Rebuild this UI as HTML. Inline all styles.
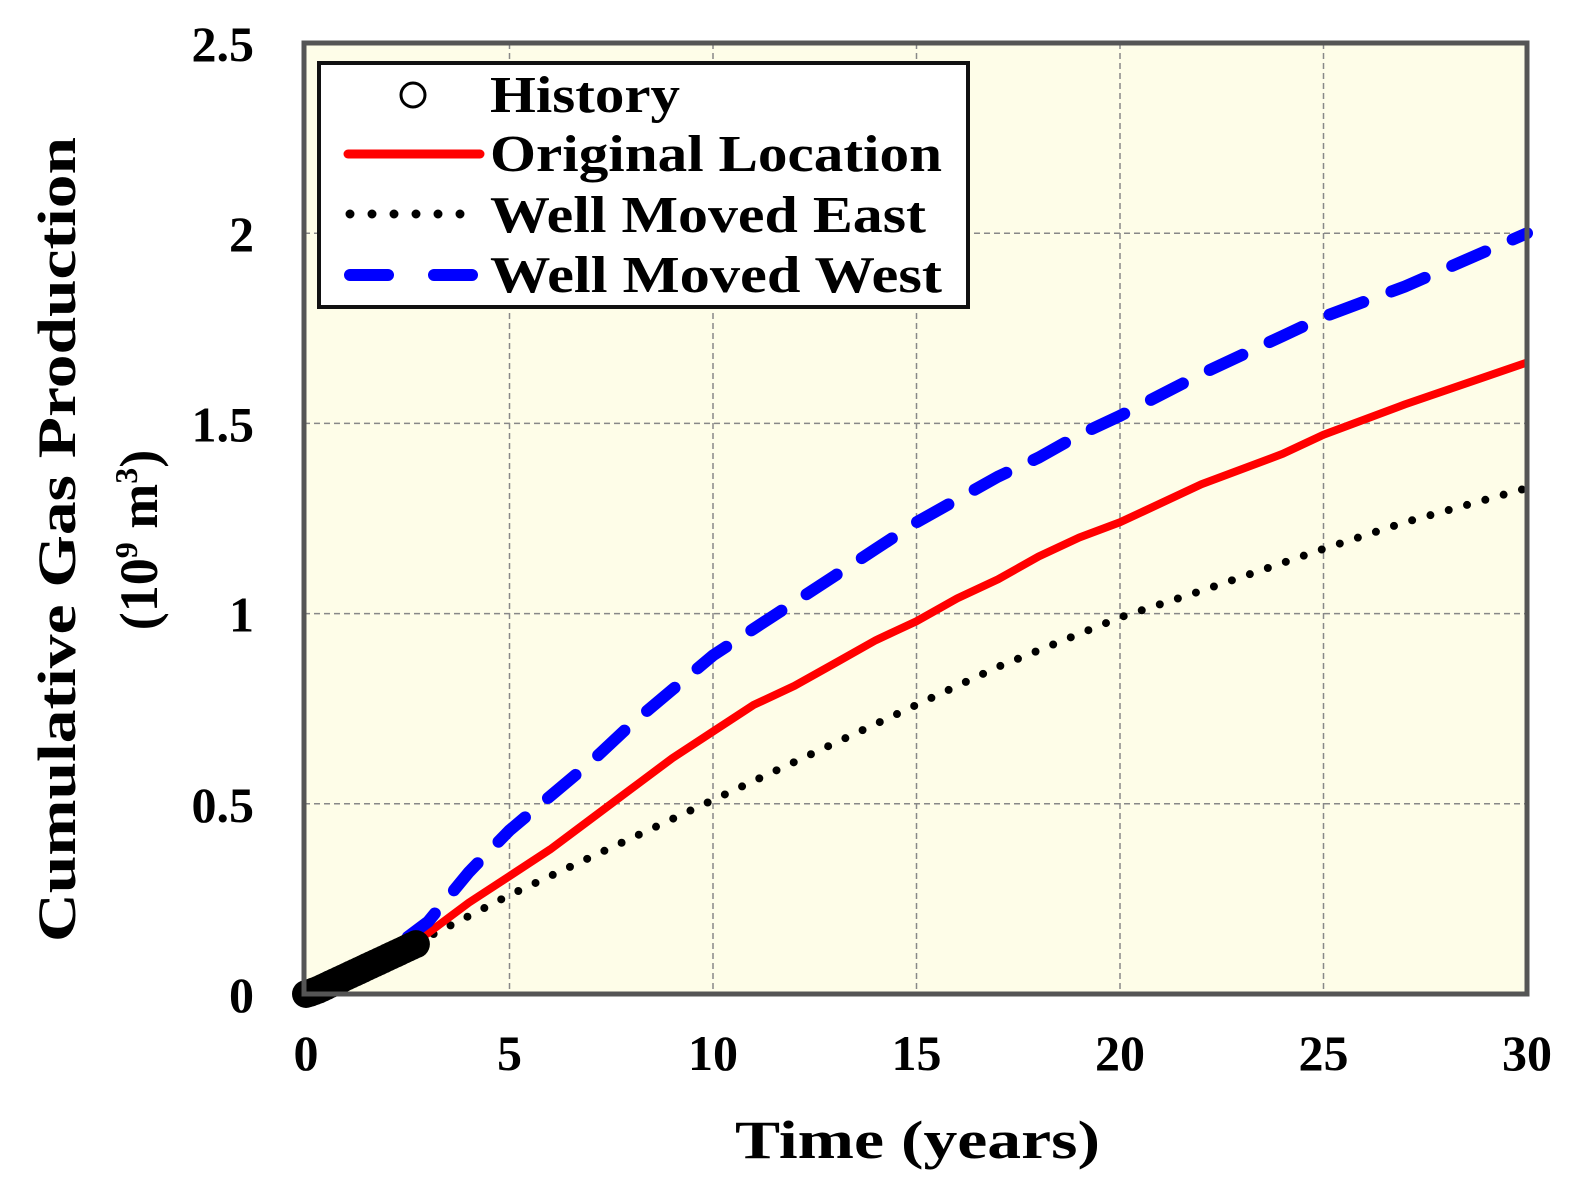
<!DOCTYPE html>
<html><head><meta charset="utf-8"><style>
html,body{margin:0;padding:0;background:#fff;}
svg{display:block;font-family:"Liberation Serif",serif;font-weight:bold;}
</style></head><body>
<svg id="chart" width="1582" height="1200" xmlns="http://www.w3.org/2000/svg">
<rect x="304" y="43" width="1223" height="951" fill="#fefde8"/>
<g id="grid"></g>
<g id="series"></g>
<rect x="304" y="43" width="1223" height="951" fill="none" stroke="#555" stroke-width="5"/>
<g id="ticks"></g>
<text x="735" y="1158" font-size="54" textLength="365" lengthAdjust="spacingAndGlyphs">Time  (years)</text>
<g transform="translate(75,540) rotate(-90)">
<text x="-402" y="0" font-size="54" textLength="805" lengthAdjust="spacingAndGlyphs">Cumulative Gas Production</text>
<text x="0" y="82" font-size="54" text-anchor="middle">(10<tspan font-size="32" dy="-20">9</tspan><tspan dy="20"> m</tspan><tspan font-size="32" dy="-20">3</tspan><tspan dy="20">)</tspan></text>
</g>
<g>
<rect x="319" y="63" width="649" height="244" fill="#fff" stroke="#111" stroke-width="4"/>
<circle cx="413" cy="95" r="12" fill="none" stroke="#000" stroke-width="3"/>
<text x="490" y="112" font-size="52" textLength="190" lengthAdjust="spacingAndGlyphs">History</text>
<line x1="348" y1="154" x2="480" y2="154" stroke="#f00" stroke-width="9" stroke-linecap="round"/>
<text x="490" y="171" font-size="52" textLength="452" lengthAdjust="spacingAndGlyphs">Original Location</text>
<line x1="350" y1="214" x2="480" y2="214" stroke="#000" stroke-width="9" stroke-linecap="round" stroke-dasharray="0 22"/>
<text x="490" y="232" font-size="52" textLength="436" lengthAdjust="spacingAndGlyphs">Well Moved East</text>
<line x1="350" y1="275" x2="480" y2="275" stroke="#00f" stroke-width="12" stroke-linecap="round" stroke-dasharray="38 46"/>
<text x="490" y="292" font-size="52" textLength="452" lengthAdjust="spacingAndGlyphs">Well Moved West</text>
</g>
</svg>
<script>
const xTicks=[0,5,10,15,20,25,30];
const yTicks=[0,0.5,1,1.5,2,2.5];
const yTickLabels=["0","0.5","1","1.5","2","2.5"];
const originalT=[2.7,3,4,5,6,7,8,9,10,11,12,13,14,15,16,17,18,19,20,22,24,25,27,30];
const originalV=[0.14,0.16,0.24,0.31,0.38,0.46,0.54,0.62,0.69,0.76,0.81,0.87,0.93,0.98,1.04,1.09,1.15,1.2,1.24,1.34,1.42,1.47,1.55,1.66];
const eastT=[2.7,3,5,7,10,12,15,17,20,22,25,27,30];
const eastV=[0.14,0.15,0.26,0.36,0.51,0.61,0.76,0.86,0.99,1.06,1.17,1.24,1.33];
const westT=[2.5,3,4,5,6,7,8,9,10,11,12,13,14,15,16,17,18,19,20,22,24,25,27,30];
const westV=[0.15,0.19,0.32,0.43,0.52,0.61,0.71,0.8,0.89,0.96,1.03,1.1,1.17,1.24,1.3,1.36,1.41,1.47,1.52,1.63,1.73,1.78,1.86,2.0];
const historyT=[0,0.1,0.2,0.3,0.4,0.5,0.6,0.7,0.8,0.9,1,1.1,1.2,1.3,1.4,1.5,1.6,1.7,1.8,1.9,2,2.1,2.2,2.3,2.4,2.5,2.6,2.7];
const historyV=[0,0.003,0.007,0.011,0.016,0.021,0.026,0.031,0.036,0.041,0.046,0.051,0.056,0.061,0.066,0.071,0.076,0.081,0.086,0.091,0.096,0.101,0.106,0.111,0.116,0.121,0.126,0.131];
const X=t=>306+t*(1527-306)/30;
const Y=v=>994-v*(994-43)/2.5;
const NS="http://www.w3.org/2000/svg";
function mk(tag,attrs,parent){const e=document.createElementNS(NS,tag);for(const k in attrs)e.setAttribute(k,attrs[k]);parent.appendChild(e);return e;}
const grid=document.getElementById('grid'),ticks=document.getElementById('ticks'),series=document.getElementById('series');
xTicks.forEach(t=>{
 if(t>0&&t<30){const l=mk('line',{x1:X(t),x2:X(t),y1:43,y2:994,stroke:'#888','stroke-width':1.5,'stroke-dasharray':'6 4'},grid);
 
 }
 const tx=mk('text',{x:X(t),y:1070,'font-size':50,'text-anchor':'middle'},ticks);tx.textContent=t;
 
 
});
yTicks.forEach((v,i)=>{
 if(v>0&&v<2.5){const l=mk('line',{x1:304,x2:1527,y1:Y(v),y2:Y(v),stroke:'#888','stroke-width':1.5,'stroke-dasharray':'6 4'},grid);
 
 }
 const tx=mk('text',{x:254,y:Y(v)+18,'font-size':50,'text-anchor':'end'},ticks);tx.textContent=yTickLabels[i];
 
 
});
function pts(T,V){return T.map((t,i)=>X(t).toFixed(1)+','+Y(V[i]).toFixed(1)).join(' ');}
const e=mk('polyline',{points:pts(eastT,eastV),fill:'none',stroke:'#000','stroke-width':8,'stroke-linecap':'round','stroke-dasharray':'0 19'},series);


const o=mk('polyline',{points:pts(originalT,originalV),fill:'none',stroke:'#f00','stroke-width':8,'stroke-linejoin':'round'},series);


const w=mk('polyline',{points:pts(westT,westV),fill:'none',stroke:'#00f','stroke-width':12,'stroke-linecap':'round','stroke-dasharray':'36 30'},series);


historyT.forEach((t,i)=>{
 const c=mk('circle',{cx:X(t),cy:Y(historyV[i]),r:14,fill:'#000'},series);
 
 
});
</script>
</body></html>
